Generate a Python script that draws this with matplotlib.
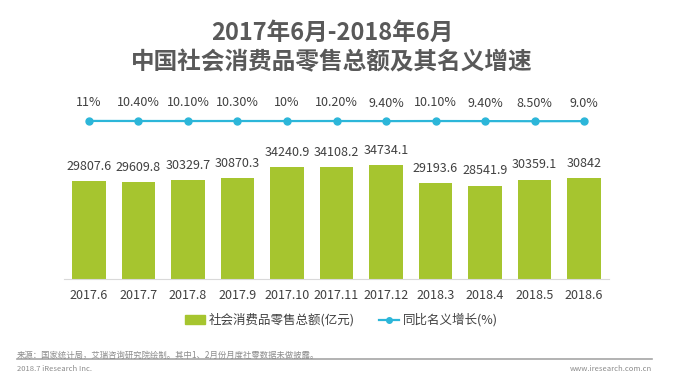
import numpy as np
import matplotlib
matplotlib.use('Agg')
import matplotlib.pyplot as plt
from matplotlib.patches import Patch
from matplotlib.lines import Line2D

plt.rcParams['font.family'] = ['Noto Sans CJK SC', 'DejaVu Sans']

months = ['2017.6', '2017.7', '2017.8', '2017.9', '2017.10', '2017.11',
          '2017.12', '2018.3', '2018.4', '2018.5', '2018.6']
sales = [29807.6, 29609.8, 30329.7, 30870.3, 34240.9, 34108.2,
         34734.1, 29193.6, 28541.9, 30359.1, 30842]
sales_labels = ['29807.6', '29609.8', '30329.7', '30870.3', '34240.9', '34108.2',
                '34734.1', '29193.6', '28541.9', '30359.1', '30842']
growth = [11, 10.4, 10.1, 10.3, 10, 10.2, 9.4, 10.1, 9.4, 8.5, 9.0]
growth_labels = ['11%', '10.40%', '10.10%', '10.30%', '10%', '10.20%',
                 '9.40%', '10.10%', '9.40%', '8.50%', '9.0%']

bar_color = '#a6c52f'
line_color = '#2cb6d9'
text_color = '#404040'

fig = plt.figure(figsize=(6.76, 3.88), dpi=100)
x = np.arange(len(months))

# bars
ax = fig.add_axes([0.095, 0.2809, 0.8056, 0.3546])
ax.bar(x, sales, width=0.68, color=bar_color)
ax.set_xlim(-0.5, len(months) - 0.5)
ax.set_ylim(0, 42000)
for i, v in enumerate(sales):
    ax.annotate(sales_labels[i], (x[i], v), xytext=(0, 10.5), textcoords='offset points',
                ha='center', va='center', fontsize=9, color=text_color)
ax.set_xticks(x)
ax.set_xticklabels(months, fontsize=9, color=text_color)
ax.tick_params(axis='x', length=0, pad=7)
ax.set_yticks([])
for s in ['top', 'left', 'right']:
    ax.spines[s].set_visible(False)
ax.spines['bottom'].set_color('#d9d9d9')

# growth line (drawn on its own wide axis so it reads flat)
ax2 = fig.add_axes([0.095, 0.634, 0.8056, 0.108])
ax2.plot(x, growth, color=line_color, lw=1.6, marker='o', ms=5)
ax2.set_xlim(-0.5, len(months) - 0.5)
m = np.mean(growth)
ax2.set_ylim(m - 200, m + 200)
for i, v in enumerate(growth):
    ax2.annotate(growth_labels[i], (x[i], v), xytext=(0, 13), textcoords='offset points',
                 ha='center', va='center', fontsize=9, color=text_color)
ax2.axis('off')

# titles
fig.text(0.491, 0.915, '2017年6月-2018年6月', ha='center', va='center',
         fontsize=17, fontweight='bold', color='#595959')
fig.text(0.491, 0.840, '中国社会消费品零售总额及其名义增速', ha='center', va='center',
         fontsize=17, fontweight='bold', color='#595959')

# legend
handles = [Patch(color=bar_color),
           Line2D([0], [0], color=line_color, lw=1.6, marker='o', ms=4)]
fig.legend(handles, ['社会消费品零售总额(亿元)', '同比名义增长(%)'],
           loc='center', bbox_to_anchor=(0.505, 0.175), ncol=2, frameon=False,
           fontsize=9, handlelength=1.6, handletextpad=0.3, columnspacing=2.0,
           labelcolor=text_color)

# source / footer
fig.text(0.025, 0.085, '来源：国家统计局，艾瑞咨询研究院绘制。其中1、2月份月度社零数据未做披露。',
         fontsize=6, color='#8c8c8c', va='center')
fig.add_artist(Line2D([0.025, 0.965], [0.075, 0.075], color='#a6a6a6', lw=1.2,
                      transform=fig.transFigure))
fig.text(0.025, 0.049, '2018.7 iResearch Inc.', fontsize=5.5, color='#8c8c8c', va='center')
fig.text(0.965, 0.049, 'www.iresearch.com.cn', fontsize=5.5, color='#8c8c8c',
         va='center', ha='right')

fig.savefig('out.png', dpi=100)
